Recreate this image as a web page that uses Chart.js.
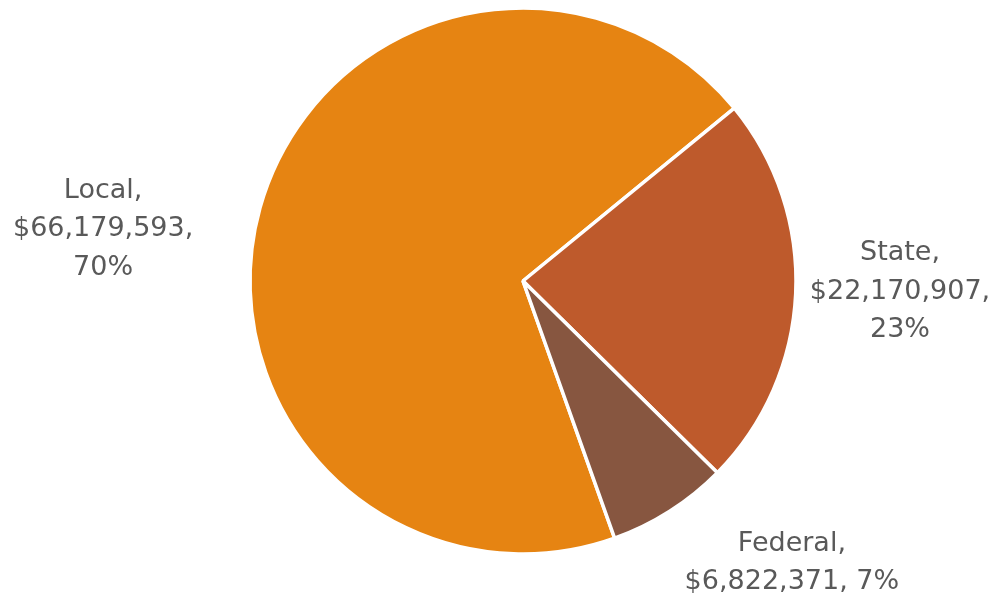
<!DOCTYPE html>
<html>
<head>
<meta charset="utf-8">
<script src="https://cdn.jsdelivr.net/npm/chart.js@4"></script>
<style>
  html, body { margin: 0; padding: 0; background: #fff; }
  #wrap { width: 997px; height: 599px; position: relative; }
</style>
</head>
<body>
<div id="wrap"><canvas id="fundingChart"></canvas></div>
<script>
// funding sources
const categories = ["Local", "State", "Federal"];
const amounts = [66179593, 22170907, 6822371];
const percents = ["70%", "23%", "7%"];
const sliceColors = ["#E68412", "#BE5A2C", "#875640"];

// label lines and where they sit, relative to pie centre in radius units
const labelLines = [
  ["Local,", "$66,179,593,", "70%"],
  ["State,", "$22,170,907,", "23%"],
  ["Federal,", "$6,822,371, 7%"],
];
const labelOffsets = [[-1.538, -0.19], [1.381, 0.04], [0.985, 1.033]];

const outsideLabels = {
  id: "outsideLabels",
  afterDatasetsDraw(chart) {
    const { ctx } = chart;
    const arcs = chart.getDatasetMeta(0).data;
    ctx.save();
    ctx.font = "27px 'DejaVu Sans'";
    ctx.fillStyle = "#595959";
    ctx.textAlign = "center";
    ctx.textBaseline = "middle";
    const lh = 38.5;
    arcs.forEach((arc, i) => {
      const r = arc.outerRadius;
      const cx = arc.x + labelOffsets[i][0] * r;
      const cy = arc.y + labelOffsets[i][1] * r;
      const lines = labelLines[i];
      const top = cy - (lines.length - 1) * lh / 2;
      lines.forEach((t, j) => ctx.fillText(t, cx, top + j * lh));
    });
    ctx.restore();
  },
};

new Chart(document.getElementById("fundingChart"), {
  type: "pie",
  data: {
    labels: categories,
    datasets: [{
      data: amounts,
      backgroundColor: sliceColors,
      borderColor: "#ffffff",
      borderWidth: 3.5,
    }],
  },
  options: {
    responsive: true,
    maintainAspectRatio: false,
    animation: false,
    rotation: 160.4,
    radius: 273,
    layout: { padding: { left: 250, right: 201, top: 8, bottom: 45 } },
    plugins: {
      legend: { display: false },
      tooltip: { enabled: false },
    },
  },
  plugins: [outsideLabels],
});
</script>
</body>
</html>
